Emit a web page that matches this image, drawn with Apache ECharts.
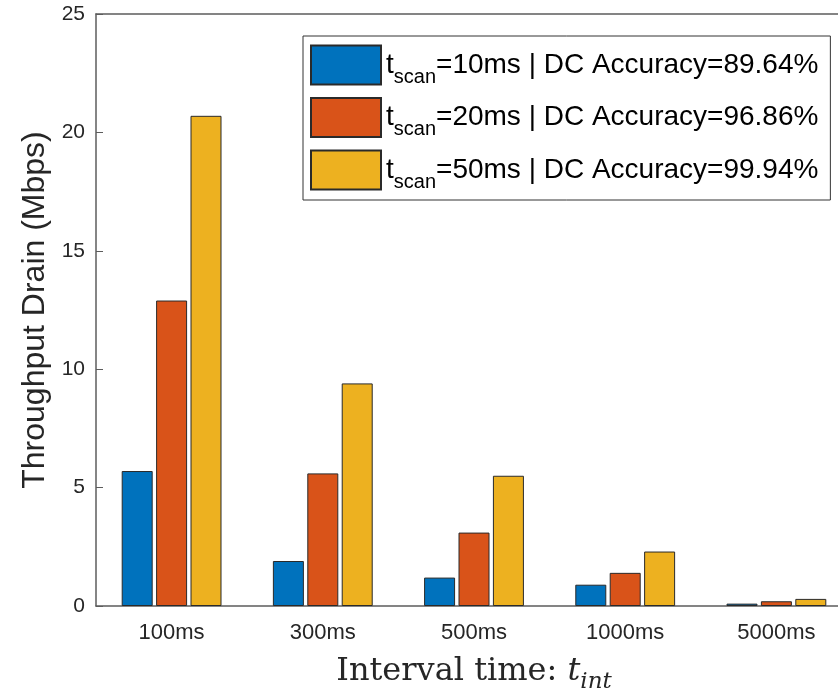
<!DOCTYPE html>
<html>
<head>
    <meta charset="utf-8">
    <title>Throughput Drain</title>
    <script src="https://cdn.jsdelivr.net/npm/echarts@6/dist/echarts.min.js"></script>
    <style>
        html, body { margin: 0; padding: 0; background: #fff; }
        #main { width: 838px; height: 691px; }
    </style>
</head>
<body>
<div id="main"></div>
<script type="text/javascript">
    // interval categories on the x axis
    var intervals = ['100ms', '300ms', '500ms', '1000ms', '5000ms'];
    // scan time and detection accuracy for each series
    var scanTimes = ['10ms', '20ms', '50ms'];
    var accuracies = ['89.64%', '96.86%', '99.94%'];
    // throughput drain (Mbps)
    var drain10 = [5.7, 1.9, 1.2, 0.9, 0.1];
    var drain20 = [12.9, 5.6, 3.1, 1.4, 0.2];
    var drain50 = [20.7, 9.4, 5.5, 2.3, 0.3];
    var yTicks = [0, 5, 10, 15, 20, 25];

    var colors = ['#0072BD', '#D95319', '#EDB120'];
    var allDrain = [drain10, drain20, drain50];
    var axisColor = '#5c5c5c';
    var textColor = '#262626';

    var names = scanTimes.map(function (t, i) {
        return 't_scan=' + t + ' | DC Accuracy=' + accuracies[i];
    });

    var series = names.map(function (n, i) {
        return {
            name: n,
            type: 'bar',
            data: allDrain[i],
            barWidth: 31,
            barGap: '11%',
            itemStyle: { color: colors[i], borderColor: '#2a2a2a', borderWidth: 1 }
        };
    });

    var myChart = echarts.init(document.getElementById('main'));
    var option = {
        animation: false,
        backgroundColor: '#fff',
        grid: { left: 96, top: 14, right: -14, bottom: 85, containLabel: false, outerBoundsMode: 'none' },
        legend: {
            orient: 'vertical',
            left: 303,
            top: 36,
            icon: 'rect',
            itemWidth: 70,
            itemHeight: 39,
            itemGap: 8.5,
            padding: [7, 12, 8, 7],
            borderColor: '#333',
            borderWidth: 1,
            backgroundColor: '#fff',
            data: names,
            formatter: function (name) {
                var i = names.indexOf(name);
                return '{t|t}{s|scan}{t|=' + scanTimes[i] + ' | DC Accuracy=' + accuracies[i] + '}';
            },
            textStyle: {
                color: '#000',
                rich: {
                    t: { fontSize: 28, fontFamily: 'Liberation Sans', color: '#000', lineHeight: 30 },
                    s: { fontSize: 20, fontFamily: 'Liberation Sans', color: '#000', lineHeight: 20, padding: [24, 0, 0, 0] }
                }
            }
        },
        xAxis: [{
            type: 'category',
            data: intervals,
            position: 'bottom',
            axisLine: { lineStyle: { color: axisColor, width: 1.5 } },
            axisTick: { inside: true, length: 7, alignWithLabel: true, lineStyle: { color: axisColor } },
            axisLabel: { fontSize: 22, color: textColor, fontFamily: 'Liberation Sans', margin: 16 },
            name: '{a|Interval time: }{b|t}{c|int}',
            nameLocation: 'middle',
            nameGap: 47,
            nameTextStyle: {
                rich: {
                    a: { fontSize: 32, fontFamily: 'DejaVu Serif', color: textColor, lineHeight: 36 },
                    b: { fontSize: 32, fontFamily: 'DejaVu Serif', fontStyle: 'italic', color: textColor, lineHeight: 36 },
                    c: { fontSize: 23, fontFamily: 'DejaVu Serif', fontStyle: 'italic', color: textColor, lineHeight: 22, padding: [22, 0, 0, 0] }
                }
            }
        }, {
            type: 'category',
            data: intervals,
            position: 'top',
            axisLine: { lineStyle: { color: axisColor, width: 1.5 } },
            axisTick: { inside: true, length: 7, alignWithLabel: true, lineStyle: { color: axisColor } },
            axisLabel: { show: false }
        }],
        yAxis: {
            type: 'value',
            min: yTicks[0],
            max: yTicks[yTicks.length - 1],
            interval: 5,
            splitLine: { show: false },
            axisLine: { show: true, lineStyle: { color: axisColor, width: 1.5 } },
            axisTick: { show: true, inside: true, length: 7, lineStyle: { color: axisColor } },
            axisLabel: { fontSize: 21, color: textColor, fontFamily: 'Liberation Sans', margin: 11 },
            name: 'Throughput Drain (Mbps)',
            nameLocation: 'middle',
            nameGap: 43,
            nameTextStyle: { fontSize: 32, fontFamily: 'Liberation Sans', color: textColor }
        },
        series: series
    };
    myChart.setOption(option);
</script>
</body>
</html>
